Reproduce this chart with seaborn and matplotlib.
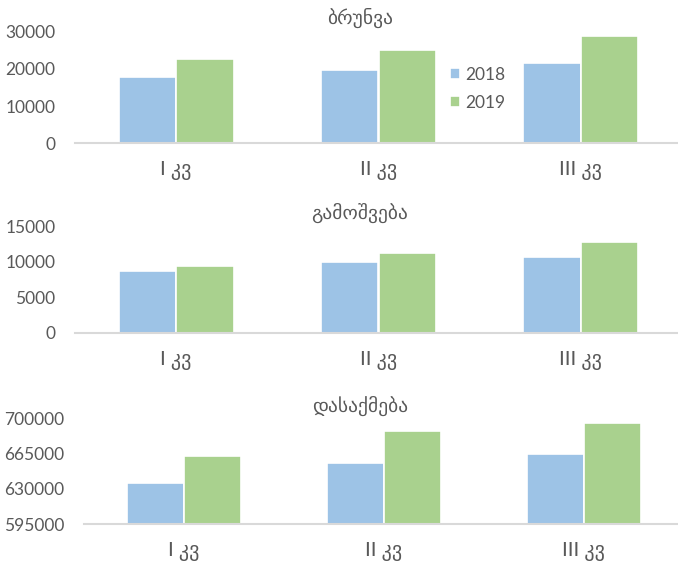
import pandas as pd
import seaborn as sns
import matplotlib.pyplot as plt

# quarters and years
quarters = ["I კვ", "II კვ", "III კვ"]
years = ["2018", "2019"]

# ბრუნვა (turnover)
turnover_2018 = [17750, 19800, 21700]
turnover_2019 = [22650, 25100, 28950]

# გამოშვება (output)
output_2018 = [8700, 10030, 10650]
output_2019 = [9460, 11260, 12780]

# დასაქმება (employment)
employ_2018 = [636300, 655600, 664800]
employ_2019 = [662400, 687000, 695600]

titles = ["ბრუნვა", "გამოშვება", "დასაქმება"]
yticks = [[0, 10000, 20000, 30000], [0, 5000, 10000, 15000],
          [595000, 630000, 665000, 700000]]

sns.set_style("white")
plt.rcParams['font.family'] = ['Lato', 'DejaVu Sans']

gray = "#595959"
colors = ["#9DC3E6", "#A9D18E"]

fig = plt.figure(figsize=(6.78, 5.71), dpi=100)
W, H = 678, 571
# axes boxes in pixels: left, top(axis max), right, bottom(axis line)
boxes = [(75, 31.7, 682, 143.3), (75, 226.5, 682, 332.7), (84, 418.3, 684, 524.3)]
title_y = [18, 213, 406]

series = [(turnover_2018, turnover_2019), (output_2018, output_2019),
          (employ_2018, employ_2019)]

for i, (a, b) in enumerate(series):
    l, t, r, btm = boxes[i]
    ax = fig.add_axes([l / W, 1 - btm / H, (r - l) / W, (btm - t) / H])
    df = pd.DataFrame({"q": quarters * 2,
                       "year": [years[0]] * 3 + [years[1]] * 3,
                       "v": list(a) + list(b)})
    sns.barplot(data=df, x="q", y="v", hue="year", palette=colors, ax=ax,
                width=0.57, edgecolor="white", linewidth=1.2, saturation=1)
    ax.set_ylim(yticks[i][0], yticks[i][-1])
    ax.set_yticks(yticks[i])
    ax.set_xlabel("")
    ax.set_ylabel("")
    for s in ["top", "right", "left"]:
        ax.spines[s].set_visible(False)
    ax.spines["bottom"].set_color("#D9D9D9")
    ax.spines["bottom"].set_linewidth(1.5)
    ax.tick_params(axis="y", length=0, pad=14, labelsize=12.5, labelcolor=gray)
    ax.tick_params(axis="x", length=0, pad=13, labelsize=14.5, labelcolor=gray)
    ax.set_facecolor("none")
    if i == 0:
        handles, labels = ax.get_legend_handles_labels()
    ax.get_legend().remove()
    fig.text(360 / W, 1 - title_y[i] / H, titles[i], ha="center", va="center",
             fontsize=14, color=gray)

fig.legend(handles, labels, loc="upper left", bbox_to_anchor=(434 / W, 1 - 51 / H),
           frameon=False, fontsize=12.5, handlelength=0.6, handleheight=0.6,
           handletextpad=0.3, labelspacing=0.7, labelcolor=gray)

fig.savefig("out.png", dpi=100)
